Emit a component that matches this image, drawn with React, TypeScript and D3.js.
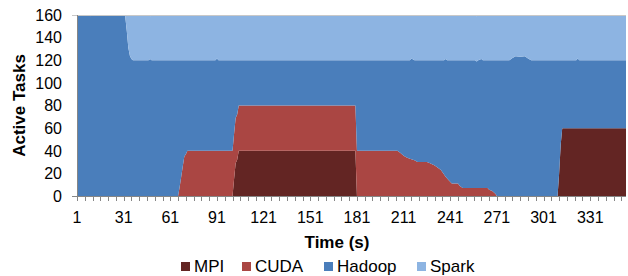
import * as d3 from 'd3';

// time (s) of each sample
const times = [
  1, 9, 10, 11, 31, 32, 33, 34, 35, 36, 37, 47, 48, 49, 66, 67, 68, 69, 70, 71, 72, 90, 91, 92,
  101, 102, 103, 104, 105, 180, 181, 207, 209, 211, 213, 215, 216, 218, 220, 226, 228, 231, 233,
  235, 237, 238, 239, 240, 242, 246, 247, 249, 257, 258, 259, 261, 262, 265, 266, 268, 270, 271,
  279, 281, 283, 286, 289, 291, 293, 310, 311, 312, 313, 322, 323, 324, 354,
];
const mpi = [
  0, 0, 0, 0, 0, 0, 0, 0, 0, 0, 0, 0, 0, 0, 0, 0, 0, 0, 0, 0, 0, 0, 0, 0,
  0, 15, 29, 32, 40, 40, 0, 0, 0, 0, 0, 0, 0, 0, 0, 0, 0, 0, 0,
  0, 0, 0, 0, 0, 0, 0, 0, 0, 0, 0, 0, 0, 0, 0, 0, 0, 0, 0,
  0, 0, 0, 0, 0, 0, 0, 0, 20, 45, 60, 60, 60, 60, 60,
];
const cuda = [
  0, 0, 0, 0, 0, 0, 0, 0, 0, 0, 0, 0, 0, 0, 0, 8, 17, 26, 35, 37, 40, 40, 40, 40,
  40, 40, 40, 40, 40, 40, 40, 40, 38, 35.5, 34, 33, 32.5, 31.5, 30, 30, 29, 27, 25,
  23, 19, 17, 15.5, 14, 11, 11, 9, 7, 7, 7, 7, 7, 7, 7, 5.5, 4.5, 2, 0,
  0, 0, 0, 0, 0, 0, 0, 0, 0, 0, 0, 0, 0, 0, 0,
];
const hadoop = [
  160, 160, 159, 160, 160, 159, 146, 131, 124, 121, 120, 120, 121, 120, 120, 112, 103, 94, 85, 83, 80, 80, 81.5, 80,
  80, 65, 51, 48, 40, 40, 80, 80, 82, 84.5, 86, 87, 89, 88.5, 90, 90, 91, 93, 95,
  97, 101, 104, 104.5, 106, 109, 109, 111, 113, 113, 112, 113, 114, 113, 113, 114.5, 115.5, 118, 120,
  120, 122, 123.5, 123, 123.5, 121.5, 120, 120, 100, 75, 60, 60, 61.5, 60, 60,
];
const spark = [
  0, 0, 0, 0, 0, 1, 14, 29, 36, 39, 40, 40, 38, 40, 40, 40, 40, 40, 40, 40, 40, 40, 38.5, 40,
  40, 40, 40, 40, 40, 40, 40, 40, 40, 40, 40, 40, 38.5, 40, 40, 40, 40, 40, 40,
  40, 40, 39, 40, 40, 40, 40, 40, 40, 40, 40, 40, 39, 40, 40, 40, 40, 40, 40,
  40, 38, 36.5, 37, 36.5, 38.5, 40, 40, 40, 40, 40, 40, 38.5, 40, 40,
];

const seriesNames = ['MPI', 'CUDA', 'Hadoop', 'Spark'];
const colors = ['#632523', '#AA4643', '#4A7EBB', '#8DB4E2'];
const yTicks = [0, 20, 40, 60, 80, 100, 120, 140, 160];
const xLabels = [1, 31, 61, 91, 121, 151, 181, 211, 241, 271, 301, 331];

const width = 628;
const height = 276;
const left = 77;
const right = 626;
const top = 15;
const bottom = 196;
const font = 'Liberation Sans, Arial, sans-serif';

export default function App() {
  const rows = times.map((t, i) => ({ t, MPI: mpi[i], CUDA: cuda[i], Hadoop: hadoop[i], Spark: spark[i] }));
  const stacked = d3.stack<any>().keys(seriesNames)(rows);

  const x = d3.scaleLinear().domain([1, 354]).range([left, right]);
  const y = d3.scaleLinear().domain([0, 160]).range([bottom, top]);

  const area = d3
    .area<any>()
    .x((d) => x(d.data.t))
    .y0((d) => y(d[0]))
    .y1((d) => y(d[1]));

  const minorTicks = d3.range(1, 355, 5);
  const legendX = [181, 242, 324, 417];

  return (
    <svg width={width} height={height} style={{ position: 'absolute', left: 0, top: 0 }} fontFamily={font}>
      <rect width={width} height={height} fill="white" />
      {stacked.map((s, i) => (
        <path key={s.key} d={area(s) || ''} fill={colors[i]} />
      ))}

      {/* axes */}
      <line x1={72} x2={right} y1={y(160) + 0.5} y2={y(160) + 0.5} stroke="#c8c8c8" />
      <line x1={left + 0.5} x2={left + 0.5} y1={top} y2={bottom} stroke="#868686" />
      <line x1={72} x2={right} y1={bottom + 0.5} y2={bottom + 0.5} stroke="#868686" />
      {minorTicks.map((t) => (
        <line key={t} x1={Math.round(x(t)) + 0.5} x2={Math.round(x(t)) + 0.5} y1={bottom} y2={bottom + 5} stroke="#868686" />
      ))}

      {yTicks.map((v) => (
        <text key={v} x={62} y={y(v)} dy="0.36em" textAnchor="end" fontSize={16} fill="#000">
          {v}
        </text>
      ))}
      {xLabels.map((t) => (
        <text key={t} x={x(t)} y={223} textAnchor="middle" fontSize={16} fill="#000">
          {t}
        </text>
      ))}

      <text transform={`translate(25,${(top + bottom) / 2}) rotate(-90)`} textAnchor="middle" fontSize={17} fontWeight="bold">
        Active Tasks
      </text>
      <text x={337} y={248} textAnchor="middle" fontSize={17} fontWeight="bold">
        Time (s)
      </text>

      {seriesNames.map((name, i) => (
        <g key={name}>
          <rect x={legendX[i]} y={262} width={9} height={9} fill={colors[i]} />
          <text x={legendX[i] + 13} y={271.5} fontSize={17}>
            {name}
          </text>
        </g>
      ))}
    </svg>
  );
}
